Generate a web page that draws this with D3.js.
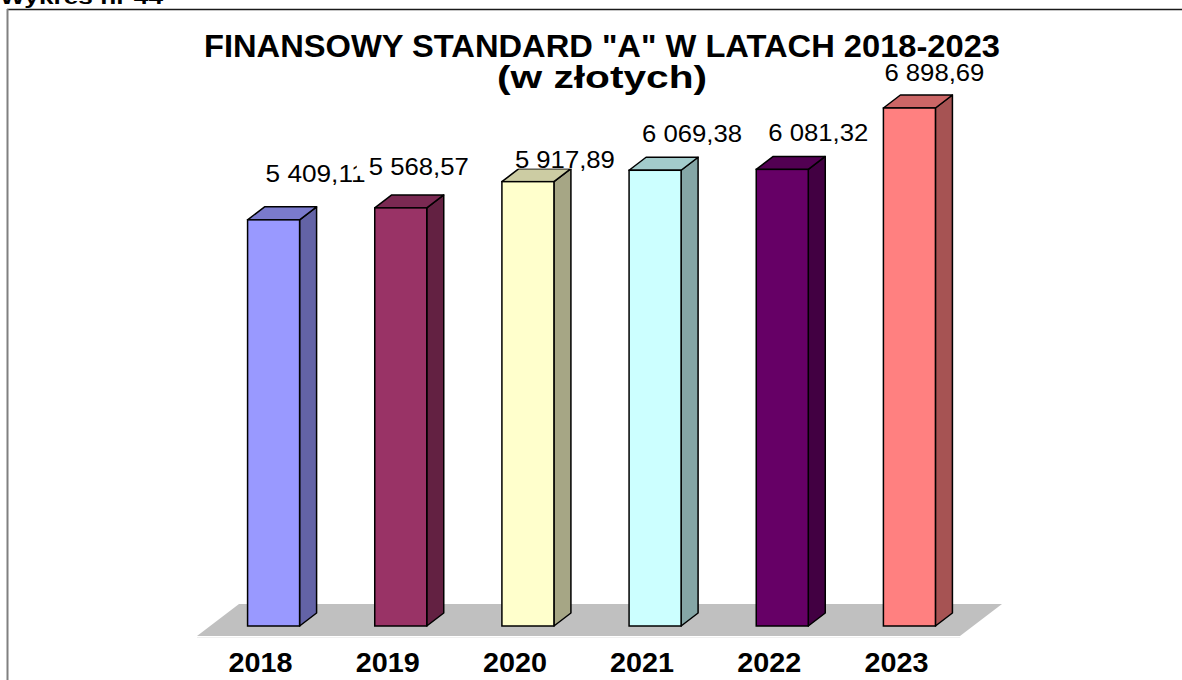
<!DOCTYPE html>
<html>
<head>
<meta charset="utf-8">
<script src="https://cdn.jsdelivr.net/npm/d3@7/dist/d3.min.js"></script>
<style>
  html, body { margin: 0; padding: 0; background: #ffffff; }
  svg { display: block; }
</style>
</head>
<body>
<svg id="chart" width="1182" height="680"></svg>
<script>
// Financial standard "A" per year (PLN)
const years = ["2018", "2019", "2020", "2021", "2022", "2023"];
const amounts = [5409.11, 5568.57, 5917.89, 6069.38, 6081.32, 6898.69];
const amountLabels = ["5 409,11", "5 568,57", "5 917,89", "6 069,38", "6 081,32", "6 898,69"];
const frontColors = ["#9999FF", "#993366", "#FFFFCC", "#CCFFFF", "#660066", "#FF8080"];

// Manual offsets of each value label from the top of its column
const labelNudge = [[42, -37.5], [18, -33], [37, -14], [37, -28], [36, -28], [25, -27]];

const svg = d3.select("#chart");
const font = "'Liberation Sans', Arial, Helvetica, sans-serif";

// Page caption (partly above the page edge)
svg.append("text")
  .attr("x", 0).attr("y", 4)
  .attr("textLength", 163).attr("lengthAdjust", "spacingAndGlyphs")
  .style("font-family", font).style("font-weight", "bold").style("font-size", "20px")
  .text("Wykres nr 44");

// Chart frame
svg.append("line").attr("x1", 7).attr("x2", 1182).attr("y1", 9.5).attr("y2", 9.5)
  .attr("stroke", "#1a1a1a").attr("stroke-width", 1.5);
svg.append("line").attr("x1", 7.5).attr("x2", 7.5).attr("y1", 9).attr("y2", 680)
  .attr("stroke", "#808080").attr("stroke-width", 2);

// Title
svg.append("text")
  .attr("x", 602).attr("y", 57).attr("text-anchor", "middle")
  .attr("textLength", 796).attr("lengthAdjust", "spacingAndGlyphs")
  .style("font-family", font).style("font-weight", "bold").style("font-size", "32px")
  .text("FINANSOWY STANDARD \"A\" W LATACH 2018-2023");
svg.append("text")
  .attr("x", 602).attr("y", 88).attr("text-anchor", "middle")
  .attr("textLength", 210).attr("lengthAdjust", "spacingAndGlyphs")
  .style("font-family", font).style("font-weight", "bold").style("font-size", "32px")
  .text("(w złotych)");

// 3D geometry: floor front edge and depth vector
const floorFrontY = 636;
const floorDepth = [42, -32];
const barFrontShift = [13, -10];   // column front plane inside the floor
const barDepth = [17, -13];        // column thickness

const x = d3.scaleBand().domain(years).range([197, 960]).paddingInner(0.591).paddingOuter(0.2955);
const slot = d3.scaleBand().domain(years).range([197, 960]);
const y = d3.scaleLinear().domain([0, 7000]).range([floorFrontY + barFrontShift[1], 100.4]);

// Floor
const fx0 = 197, fx1 = 960;
svg.append("path")
  .attr("d", `M${fx0},${floorFrontY} L${fx1},${floorFrontY} L${fx1 + floorDepth[0]},${floorFrontY + floorDepth[1]} L${fx0 + floorDepth[0]},${floorFrontY + floorDepth[1]} Z`)
  .attr("fill", "#C0C0C0");
svg.append("line").attr("x1", fx0).attr("x2", fx1).attr("y1", floorFrontY + 1.5).attr("y2", floorFrontY + 1.5)
  .attr("stroke", "#f0f0f0").attr("stroke-width", 1);

function shade(c, k) {
  const r = d3.rgb(c);
  return d3.rgb(r.r * k, r.g * k, r.b * k).formatHex();
}

const data = years.map((yr, i) => ({ year: yr, value: amounts[i], label: amountLabels[i], color: frontColors[i], nudge: labelNudge[i] }));

const bars = svg.append("g").selectAll("g").data(data).join("g");
bars.each(function (d) {
  const g = d3.select(this);
  const x0 = x(d.year) + barFrontShift[0];
  const x1 = x0 + x.bandwidth();
  const yb = y(0);
  const yt = y(d.value);
  const dx = barDepth[0], dy = barDepth[1];
  // side face
  g.append("path")
    .attr("d", `M${x1},${yb} L${x1 + dx},${yb + dy} L${x1 + dx},${yt + dy} L${x1},${yt} Z`)
    .attr("fill", shade(d.color, 0.65)).attr("stroke", "#000").attr("stroke-width", 1.5).attr("stroke-linejoin", "round");
  // top face
  g.append("path")
    .attr("d", `M${x0},${yt} L${x1},${yt} L${x1 + dx},${yt + dy} L${x0 + dx},${yt + dy} Z`)
    .attr("fill", shade(d.color, 0.8)).attr("stroke", "#000").attr("stroke-width", 1.5).attr("stroke-linejoin", "round");
  // front face
  g.append("rect")
    .attr("x", x0).attr("y", yt).attr("width", x1 - x0).attr("height", yb - yt)
    .attr("fill", d.color).attr("stroke", "#000").attr("stroke-width", 1.5);
});

// Value labels with white backgrounds
const labels = svg.append("g").selectAll("g").data(data).join("g");
labels.each(function (d) {
  const g = d3.select(this);
  const cx = x(d.year) + barFrontShift[0] + x.bandwidth() / 2 + d.nudge[0];
  const by = y(d.value) + d.nudge[1];
  g.append("rect")
    .attr("x", cx - 62).attr("y", by - 20).attr("width", 124).attr("height", 21)
    .attr("fill", "#ffffff");
  g.append("text")
    .attr("x", cx).attr("y", by).attr("text-anchor", "middle")
    .attr("textLength", 100).attr("lengthAdjust", "spacingAndGlyphs")
    .style("font-family", font).style("font-size", "23px").attr("fill", "#000")
    .text(d.label);
});

// Category axis labels
svg.append("g").selectAll("text").data(years).join("text")
  .attr("x", d => slot(d) + slot.bandwidth() / 2)
  .attr("y", 672).attr("text-anchor", "middle")
  .attr("textLength", 64).attr("lengthAdjust", "spacingAndGlyphs")
  .style("font-family", font).style("font-weight", "bold").style("font-size", "27px")
  .text(d => d);
</script>
</body>
</html>
